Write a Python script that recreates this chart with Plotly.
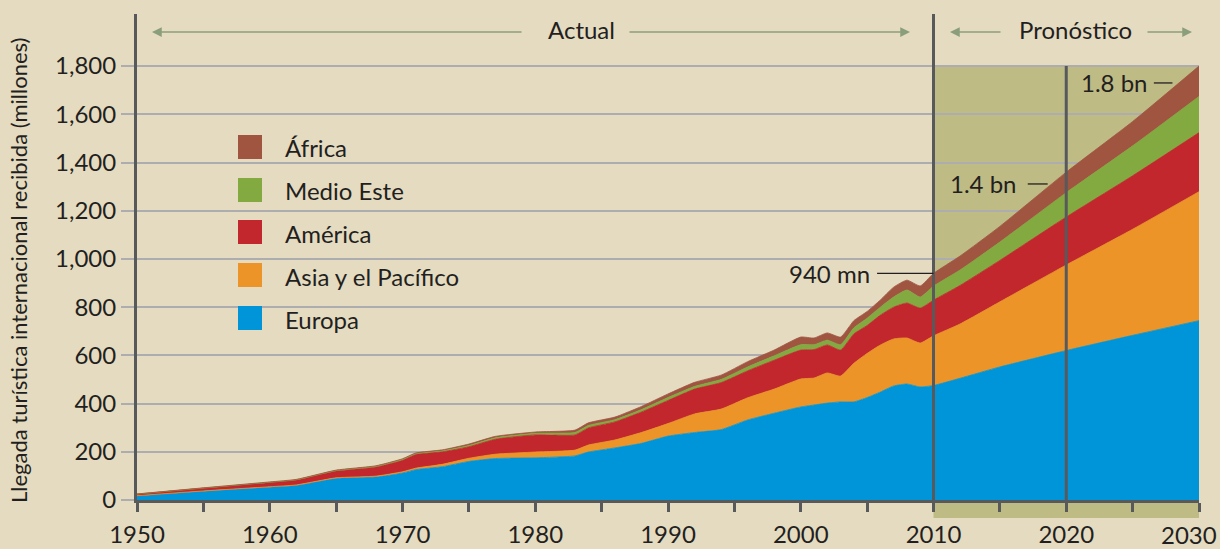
import plotly.graph_objects as go

# ---- data (millions of international tourist arrivals) ----
years = [1950, 1955, 1960, 1962, 1965, 1968, 1970, 1971, 1973, 1975, 1977, 1980, 1983, 1984, 1986,
         1988, 1990, 1992, 1994, 1996, 1998, 2000, 2001, 2002, 2003, 2004, 2005, 2006, 2007, 2008,
         2009, 2010, 2012, 2015, 2020, 2025, 2030]
europa = [17, 36, 53, 60, 89, 95, 112, 126, 138, 160, 172, 175, 183, 199, 216, 235, 265, 280, 292, 332,
          360, 386, 394, 402, 407, 407, 425, 448, 473, 481, 469, 475, 505, 552, 620, 683, 744]
asia = [1, 1.5, 2, 2.5, 3, 4, 5, 6, 10, 13, 18, 24, 24, 29, 33, 45, 52, 77, 85, 92,
        100, 116, 112, 125, 107, 160, 183, 195, 195, 191, 182, 206, 225, 270, 355, 440, 535]
america = [6, 11, 17, 20, 28, 38, 48, 57, 52, 48, 62, 71, 63, 71, 75, 85, 96, 103, 110, 112,
           120, 120, 118, 116, 108, 122, 116, 124, 132, 145, 145, 148, 160, 172, 199, 222, 245]
medio_este = [0.5, 1, 1.5, 1.5, 2, 2.5, 3, 3, 4, 5, 6, 7, 10, 10, 9, 10, 12, 11, 13, 16,
              18, 22, 20, 20, 22, 25, 30, 33, 42, 54, 46, 58, 64, 76, 101, 124, 150]
africa = [0.5, 1, 1.5, 1.5, 2, 2.5, 3, 3, 4, 6, 6, 5, 10, 11, 11, 13, 15, 17, 18, 22,
          24, 32, 28, 30, 32, 30, 28, 30, 41, 41, 46, 53, 58, 65, 85, 101, 126]

series_names = ["Europa", "Asia y el Pacífico", "América", "Medio Este", "África"]
series_values = [europa, asia, america, medio_este, africa]
series_colors = ["#0095d9", "#ec9428", "#c1272d", "#82aa41", "#a05541"]

legend_order = ["África", "Medio Este", "América", "Asia y el Pacífico", "Europa"]

x_ticks = [1950, 1960, 1970, 1980, 1990, 2000, 2010, 2020, 2030]
y_ticks = [0, 200, 400, 600, 800, 1000, 1200, 1400, 1600, 1800]

callouts = [  # text, text-right year, value, line start year, line end year
    ("940 mn", 2005.4, 940, 2005.75, 2010.0),
    ("1.4 bn", 2016.4, 1311, 2017.1, 2018.6),
    ("1.8 bn", 2026.2, 1730, 2026.6, 2028.0),
]

BG = "#e4dbc0"
SHADE = "#bfbb84"
DARK = "#58595b"
GRID = "#adadb0"
TXT = "#231f20"
ARROW = "#8a9e7c"
FONT = "Lato"

fig = go.Figure()
for name, vals, col in zip(series_names, series_values, series_colors):
    fig.add_trace(go.Scatter(
        x=years, y=vals, name=name, stackgroup="one", mode="lines",
        line=dict(color=col, width=0.8, shape="spline", smoothing=0.5),
        fillcolor=col, showlegend=False, hoverinfo="x+y+name"))

W, H = 1220, 549
L, R, T, B = 137, 21, 14, 49
pw, ph = W - L - R, H - T - B
ymax = 2016


def px_x(p):
    return (p - L) / pw


def px_y(p):
    return (H - B - p) / ph


shapes = []
annotations = []

# forecast shading (extends slightly below the x axis)
shapes.append(dict(type="rect", xref="paper", yref="paper",
                   x0=(2010 - 1950) / 80, x1=1.0, y0=px_y(518), y1=1800 / ymax,
                   fillcolor=SHADE, line=dict(width=0), layer="below"))
# vertical dividers
shapes.append(dict(type="line", xref="x", yref="paper", x0=2010, x1=2010, y0=0, y1=1,
                   line=dict(color=DARK, width=3), layer="above"))
shapes.append(dict(type="line", xref="x", yref="y", x0=2020, x1=2020, y0=0, y1=1800,
                   line=dict(color=DARK, width=3), layer="above"))

# callouts
for text, tx, val, x0, x1 in callouts:
    annotations.append(dict(x=tx, y=val, xref="x", yref="y", text=text, showarrow=False,
                            xanchor="right", yanchor="middle",
                            font=dict(family=FONT, size=24, color=TXT)))
    shapes.append(dict(type="line", xref="x", yref="y", x0=x0, x1=x1, y0=val, y1=val,
                       line=dict(color=TXT, width=1.3), layer="above"))

# header labels with arrows
ay = px_y(32)
annotations.append(dict(x=px_x(581), y=px_y(30), xref="paper", yref="paper", text="Actual",
                        xanchor="center", yanchor="middle",
                        showarrow=False, font=dict(family=FONT, size=24, color=TXT)))
annotations.append(dict(x=px_x(1075), y=px_y(30), xref="paper", yref="paper", text="Pronóstico",
                        xanchor="center", yanchor="middle",
                        showarrow=False, font=dict(family=FONT, size=24, color=TXT)))
for head, tail in [(152, 523), (910, 628), (950, 1002), (1192, 1146)]:
    annotations.append(dict(x=px_x(head), y=ay, xref="paper", yref="paper", text="",
                            showarrow=True, ax=tail - head, ay=0, axref="pixel", ayref="pixel",
                            arrowhead=2, arrowsize=1.3, arrowwidth=1.5, arrowcolor=ARROW))

# legend (manual)
color_of = dict(zip(series_names, series_colors))
legend_y = [147, 190, 232, 275, 318]
for name, cy in zip(legend_order, legend_y):
    shapes.append(dict(type="rect", xref="paper", yref="paper",
                       x0=px_x(238), x1=px_x(262), y0=px_y(cy + 12), y1=px_y(cy - 12),
                       fillcolor=color_of[name], line=dict(width=0), layer="above"))
    annotations.append(dict(x=px_x(283), y=px_y(cy + 1), xref="paper", yref="paper", text=name,
                            showarrow=False, xanchor="left", yanchor="middle",
                            font=dict(family=FONT, size=24, color=TXT)))

# y-axis title
annotations.append(dict(x=px_x(18), y=px_y(270), xref="paper", yref="paper",
                        text="Llegada turística internacional recibida (millones)",
                        textangle=-90, showarrow=False, xanchor="center", yanchor="middle",
                        font=dict(family=FONT, size=22, color=TXT)))

# last x tick label kept fully inside the page (right-aligned at the edge)
tick_text = [str(v) for v in x_ticks]
last_label = tick_text[-1]
tick_text[-1] = ""
annotations.append(dict(x=px_x(1219), y=px_y(534), xref="paper", yref="paper", text=last_label,
                        xanchor="right", yanchor="middle", showarrow=False,
                        font=dict(family=FONT, size=24, color=TXT)))

fig.update_layout(
    width=W, height=H,
    margin=dict(l=L, r=R, t=T, b=B, pad=0, autoexpand=False),
    paper_bgcolor=BG, plot_bgcolor=BG,
    font=dict(family=FONT, size=24, color=TXT),
    shapes=shapes, annotations=annotations,
    showlegend=False,
    xaxis=dict(range=[1950, 2030], tickmode="array", tickvals=x_ticks,
               ticktext=tick_text, automargin=False,
               ticklabeloverflow="allow",
               ticks="outside", ticklen=9, tickwidth=3, tickcolor=DARK,
               showline=True, linecolor=DARK, linewidth=3, showgrid=False, zeroline=False,
               ticklabelstandoff=2,
               minor=dict(dtick=5, tick0=1950, ticks="outside", ticklen=9, tickwidth=3,
                          tickcolor=DARK, showgrid=False),
               tickfont=dict(family=FONT, size=24, color=TXT)),
    yaxis=dict(range=[0, ymax], tickmode="array", tickvals=y_ticks, tickformat=",",
               automargin=False,
               ticks="outside", ticklen=13, tickwidth=2, tickcolor=GRID,
               showgrid=True, gridcolor=GRID, gridwidth=2,
               showline=True, linecolor=DARK, linewidth=3, zeroline=False,
               tickfont=dict(family=FONT, size=24, color=TXT)),
)

fig.write_html("out.html",
               config={"displayModeBar": False},
               post_script="document.body.style.margin='0px';"
                           "document.body.style.background='" + BG + "';")
